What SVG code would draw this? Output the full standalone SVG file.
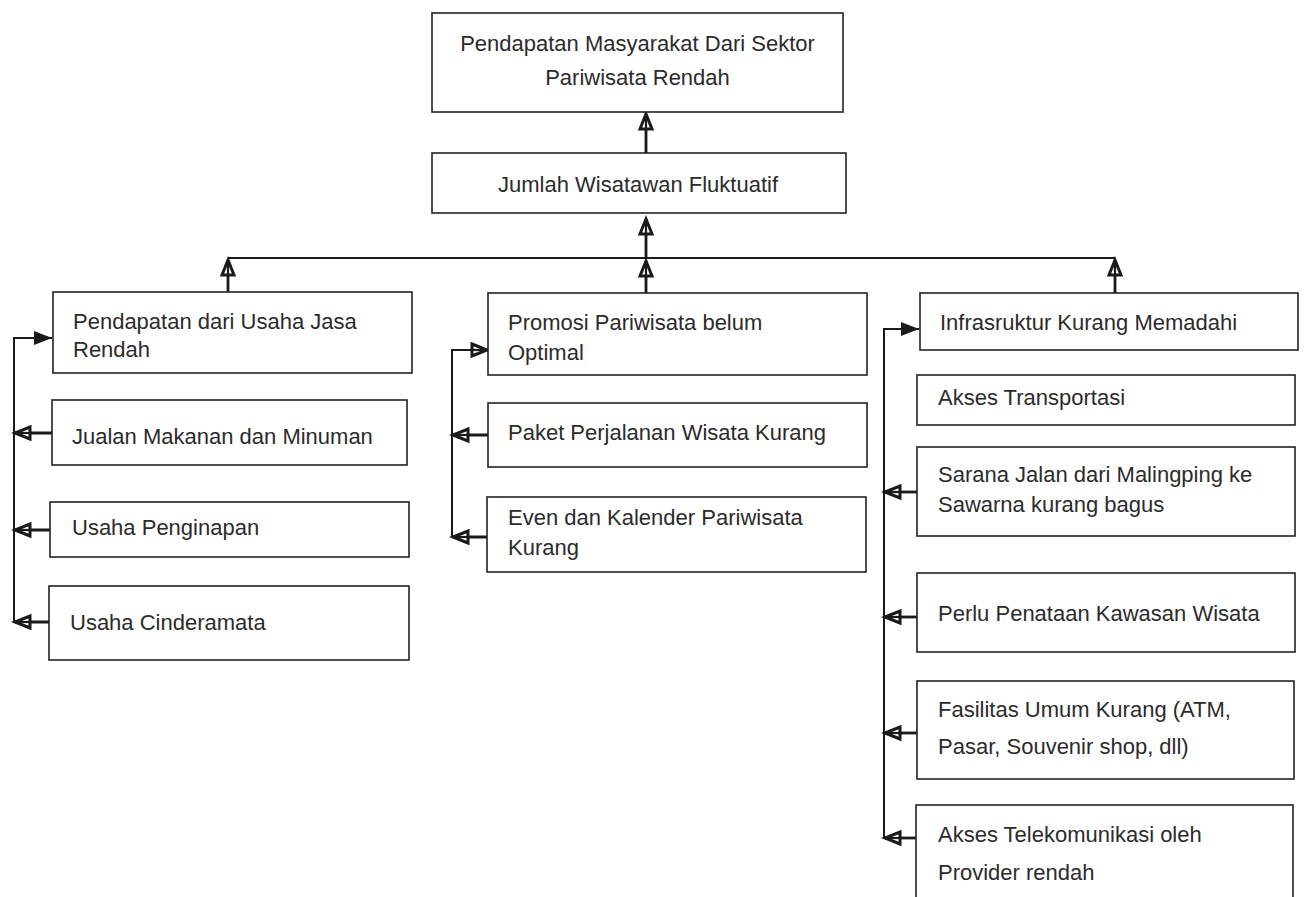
<svg xmlns="http://www.w3.org/2000/svg" width="1306" height="897" viewBox="0 0 1306 897">
<style>
.box{fill:#fff;stroke:#222;stroke-width:1.6}
.t{font-family:"Liberation Sans",Arial,sans-serif;font-size:22px;fill:#2b2b2b}
.c{text-anchor:middle}
.ln{fill:none;stroke:#1a1a1a;stroke-width:2}
.up{fill:none;stroke:#1a1a1a;stroke-width:2.8}
</style>
<defs>
<marker id="open" viewBox="0 0 18 16" refX="17" refY="8" markerWidth="18" markerHeight="16" markerUnits="userSpaceOnUse" orient="auto" overflow="visible">
<path d="M2,2 L17,8 L2,14 z" fill="#fff" stroke="#1a1a1a" stroke-width="3" stroke-linejoin="miter"/>
<line x1="0" y1="8" x2="14" y2="8" stroke="#1a1a1a" stroke-width="2.2"/>
</marker>
<marker id="solid" viewBox="0 0 18 16" refX="18" refY="8" markerWidth="18" markerHeight="16" markerUnits="userSpaceOnUse" orient="auto" overflow="visible">
<path d="M0,1 L18,8 L0,15 z" fill="#1a1a1a"/>
</marker>
</defs>
<rect width="1306" height="897" fill="#fff"/>

<g id="connectors">
<line class="up" x1="646" y1="153" x2="646" y2="114" marker-end="url(#open)"/>
<line class="up" x1="646" y1="258" x2="646" y2="219" marker-end="url(#open)"/>
<line class="ln" x1="228" y1="258" x2="1115" y2="258"/>
<line class="up" x1="228" y1="292" x2="228" y2="260" marker-end="url(#open)"/>
<line class="up" x1="646" y1="293" x2="646" y2="261" marker-end="url(#open)"/>
<line class="up" x1="1115" y1="293" x2="1115" y2="260" marker-end="url(#open)"/>

<path class="ln" d="M14,622 L14,338 L52,338" marker-end="url(#solid)"/>
<line class="up" x1="52" y1="433" x2="15" y2="433" marker-end="url(#open)"/>
<line class="up" x1="50" y1="530" x2="15" y2="530" marker-end="url(#open)"/>
<line class="up" x1="49" y1="622" x2="15" y2="622" marker-end="url(#open)"/>

<path class="ln" d="M452,537 L452,350 L487,350" marker-end="url(#open)"/>
<line class="up" x1="488" y1="435" x2="453" y2="435" marker-end="url(#open)"/>
<line class="up" x1="487" y1="537" x2="453" y2="537" marker-end="url(#open)"/>

<path class="ln" d="M884,838 L884,329 L919,329" marker-end="url(#solid)"/>
<line class="up" x1="917" y1="492" x2="885" y2="492" marker-end="url(#open)"/>
<line class="up" x1="917" y1="617" x2="885" y2="617" marker-end="url(#open)"/>
<line class="up" x1="917" y1="733" x2="885" y2="733" marker-end="url(#open)"/>
<line class="up" x1="916" y1="838" x2="885" y2="838" marker-end="url(#open)"/>
</g>

<g id="n-top">
<rect class="box" x="432" y="13" width="411" height="99"/>
<text class="t c" x="637.5" y="51">Pendapatan Masyarakat Dari Sektor</text>
<text class="t c" x="637.5" y="85">Pariwisata Rendah</text>
</g>
<g id="n-jumlah">
<rect class="box" x="432" y="153" width="414" height="60"/>
<text class="t c" x="638" y="192">Jumlah Wisatawan Fluktuatif</text>
</g>

<g id="n-pendapatan">
<rect class="box" x="53" y="292" width="359" height="81"/>
<text class="t" x="73" y="329">Pendapatan dari Usaha Jasa</text>
<text class="t" x="73" y="357">Rendah</text>
</g>
<g id="n-jualan">
<rect class="box" x="52" y="400" width="355" height="65"/>
<text class="t" x="72" y="444">Jualan Makanan dan Minuman</text>
</g>
<g id="n-penginapan">
<rect class="box" x="50" y="502" width="359" height="55"/>
<text class="t" x="72" y="535">Usaha Penginapan</text>
</g>
<g id="n-cinderamata">
<rect class="box" x="49" y="586" width="360" height="74"/>
<text class="t" x="70" y="630">Usaha Cinderamata</text>
</g>

<g id="n-promosi">
<rect class="box" x="488" y="293" width="379" height="82"/>
<text class="t" x="508" y="330">Promosi Pariwisata belum</text>
<text class="t" x="508" y="360">Optimal</text>
</g>
<g id="n-paket">
<rect class="box" x="488" y="403" width="379" height="64"/>
<text class="t" x="508" y="440">Paket Perjalanan Wisata Kurang</text>
</g>
<g id="n-even">
<rect class="box" x="487" y="497" width="379" height="75"/>
<text class="t" x="508" y="525">Even dan Kalender Pariwisata</text>
<text class="t" x="508" y="555">Kurang</text>
</g>

<g id="n-infra">
<rect class="box" x="920" y="293" width="378" height="57"/>
<text class="t" x="940" y="330">Infrasruktur Kurang Memadahi</text>
</g>
<g id="n-akses-transportasi">
<rect class="box" x="917" y="375" width="378" height="50"/>
<text class="t" x="938" y="405">Akses Transportasi</text>
</g>
<g id="n-sarana">
<rect class="box" x="917" y="447" width="378" height="89"/>
<text class="t" x="938" y="482">Sarana Jalan dari Malingping ke</text>
<text class="t" x="938" y="512">Sawarna kurang bagus</text>
</g>
<g id="n-perlu">
<rect class="box" x="917" y="573" width="378" height="79"/>
<text class="t" x="938" y="621">Perlu Penataan Kawasan Wisata</text>
</g>
<g id="n-fasilitas">
<rect class="box" x="917" y="681" width="377" height="98"/>
<text class="t" x="938" y="717">Fasilitas Umum Kurang (ATM,</text>
<text class="t" x="938" y="754">Pasar, Souvenir shop, dll)</text>
</g>
<g id="n-telekom">
<rect class="box" x="916" y="805" width="377" height="100"/>
<text class="t" x="938" y="842">Akses Telekomunikasi oleh</text>
<text class="t" x="938" y="880">Provider rendah</text>
</g>
</svg>
